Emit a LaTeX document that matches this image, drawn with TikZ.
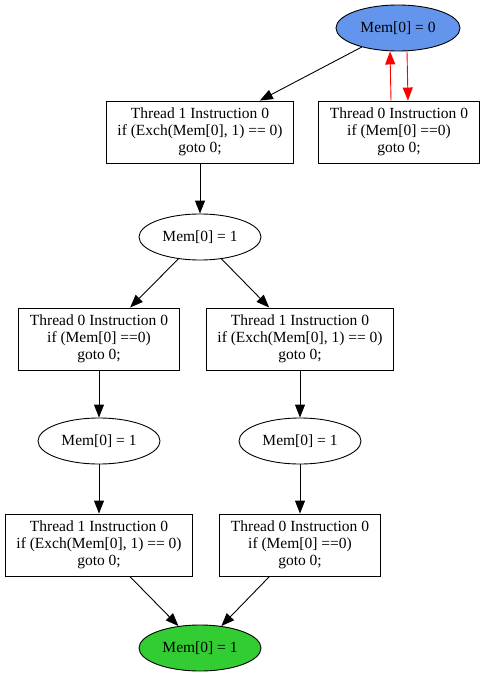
\documentclass[tikz,border=0pt]{standalone}
\usepackage{fontspec}
\setmainfont{Liberation Serif}
\usetikzlibrary{shapes.geometric,arrows.meta}

\newcommand{\tOneIns}{Thread 1 Instruction 0\\if (Exch(Mem[0], 1) == 0)\\goto 0;}
\newcommand{\tZeroIns}{Thread 0 Instruction 0\\if (Mem[0] ==0)\\goto 0;}

\begin{document}
\begin{tikzpicture}[x=1pt, y=-1pt,
	font=\fontsize{15.5}{17}\selectfont,
	every path/.style={line width=0.9pt},
	>={Triangle[length=13pt,width=10pt]},
	state/.style={ellipse, draw, minimum width=122pt, minimum height=46pt, inner sep=0pt},
	instr/.style={rectangle, draw, align=center, minimum height=62pt, inner xsep=11pt, inner ysep=0pt}]
	\useasboundingbox (0,0) rectangle (487,679);
	% states
	\node[state, fill={rgb,255:red,100;green,149;blue,237}, minimum width=124pt] (s-0) at (398,28) {Mem[0] = 0};
	\node[state] (s-1) at (200,237) {Mem[0] = 1};
	\node[state] (s-2l) at (99,441) {Mem[0] = 1};
	\node[state] (s-2r) at (300,441) {Mem[0] = 1};
	\node[state, fill={rgb,255:red,50;green,205;blue,50}] (s-end) at (200,648) {Mem[0] = 1};
	% instructions
	\node[instr] (t1-a) at (200,132) {\tOneIns};
	\node[instr] (t0-a) at (399,132) {\tZeroIns};
	\node[instr] (t0-b) at (99,339) {\tZeroIns};
	\node[instr] (t1-b) at (300,339) {\tOneIns};
	\node[instr] (t1-c) at (99,545) {\tOneIns};
	\node[instr] (t0-c) at (300,545) {\tZeroIns};

	\draw[->] (s-0) -- (t1-a);
	\draw[->, red] ([xshift=-8pt]t0-a.north) -- ([xshift=-8pt]s-0.south);
	\draw[->, red] ([xshift=9pt]s-0.south) -- ([xshift=9pt]t0-a.north);

	\draw[->] (t1-a) -- (s-1);
	\draw[->] (s-1) -- (t0-b);
	\draw[->] (s-1) -- (t1-b);

	\draw[->] (t0-b) -- (s-2l);
	\draw[->] (t1-b) -- (s-2r);
	\draw[->] (s-2l) -- (t1-c);
	\draw[->] (s-2r) -- (t0-c);

	\draw[->] (t1-c) -- (s-end);
	\draw[->] (t0-c) -- (s-end);
\end{tikzpicture}
\end{document}
